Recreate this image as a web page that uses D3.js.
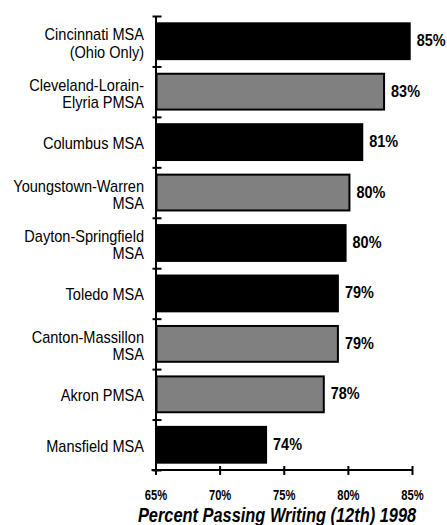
<html>
<script src='https://d3js.org/d3.v7.min.js'></script>
<style>
  body {margin: 0; background: white;}
  text {font-family: "Liberation Sans", Arial, sans-serif; fill: black;}
  .domain, .tick line {stroke: black; stroke-width: 2px;}
</style>
<body>
<svg width=447 height=525></svg>
<script>

var categories = ['Cincinnati MSA\n(Ohio Only)', 'Cleveland-Lorain-\nElyria PMSA', 'Columbus MSA',
                  'Youngstown-Warren\nMSA', 'Dayton-Springfield\nMSA', 'Toledo MSA',
                  'Canton-Massillon\nMSA', 'Akron PMSA', 'Mansfield MSA'];
var values = [84.9, 82.9, 81.2, 80.2, 79.9, 79.3, 79.3, 78.2, 73.7];
var groups = ['a', 'b', 'a', 'b', 'a', 'a', 'b', 'b', 'a'];
var xticks = [65, 70, 75, 80, 85];
var title = 'Percent Passing Writing (12th) 1998';

var left = 155.5, right = 412;
var yTop = 16, yBot = 470;

// no condensed font installed, so squeeze text horizontally
function narrow(x, y, k) {
  return 'translate(' + x + ',' + y + ') scale(' + k + ',1)';
}

var svg = d3.select('svg');
var xs = d3.scaleLinear().domain([65, 85]).range([left, right]);
var ys = d3.scaleBand().domain(d3.range(categories.length)).range([yTop, yBot])
  .paddingInner(0.25).paddingOuter(0.125);
var fill = d3.scaleOrdinal().domain(['a', 'b']).range(['#000000', '#808080']);

// bars
svg.append('g').selectAll('rect').data(values).enter().append('rect')
  .attr('x', xs(65) + 1)
  .attr('y', function(d, i) { return ys(i) + 1; })
  .attr('width', function(d) { return xs(d) - xs(65) - 2; })
  .attr('height', ys.bandwidth() - 2)
  .style('fill', function(d, i) { return fill(groups[i]); })
  .style('stroke', 'black')
  .style('stroke-width', 2);

// value labels
svg.append('g').selectAll('text').data(values).enter().append('text')
  .attr('transform', function(d, i) { return narrow(xs(d) + 6, ys(i) + ys.bandwidth() / 2 + 5, 0.85); })
  .style('font-weight', 'bold')
  .style('font-size', '17px')
  .text(function(d) { return Math.round(d) + '%'; });

// category labels
var lab = svg.append('g').selectAll('text').data(categories).enter().append('text')
  .attr('text-anchor', 'end')
  .style('font-size', '16px')
  .attr('transform', function(d, i) {
    var c = ys(i) + ys.bandwidth() / 2;
    return narrow(144, d.indexOf('\n') >= 0 ? c - 1 : c + 7, 0.91);
  });
lab.each(function(d) {
  var t = d3.select(this);
  d.split('\n').forEach(function(line, k) {
    t.append('tspan').attr('x', 0).attr('dy', k == 0 ? 0 : 17.5).text(line);
  });
});

// y axis with ticks at band boundaries
var yb = d3.scaleLinear().domain([0, categories.length]).range([yTop, yBot]);
var yAxis = d3.axisLeft(yb).tickValues(d3.range(categories.length + 1))
  .tickFormat('').tickSizeInner(-6).tickSizeOuter(0);
var gy = svg.append('g').attr('transform', 'translate(' + left + ',0)').call(yAxis);
gy.selectAll('.tick line').attr('x1', -3);

// x axis
var xAxis = d3.axisBottom(xs).tickValues(xticks).tickSizeInner(5).tickSizeOuter(0)
  .tickFormat(function(d) { return d + '%'; });
var gx = svg.append('g').attr('transform', 'translate(0,' + yBot + ')').call(xAxis);
gx.select('.domain').attr('d', 'M' + (left - 4) + ',0H' + right);
gx.selectAll('.tick line').attr('y1', -4);
gx.selectAll('.tick text')
  .attr('y', null).attr('dy', null)
  .attr('transform', narrow(0, 30, 0.8))
  .style('font-size', '14px').style('font-weight', 'bold')
  .style('font-family', '"Liberation Sans", Arial, sans-serif');

svg.append('text')
  .attr('transform', narrow(277, 522, 0.82))
  .attr('text-anchor', 'middle')
  .style('font-size', '20px')
  .style('font-weight', 'bold')
  .style('font-style', 'italic')
  .text(title);
</script>
</body>
</html>
